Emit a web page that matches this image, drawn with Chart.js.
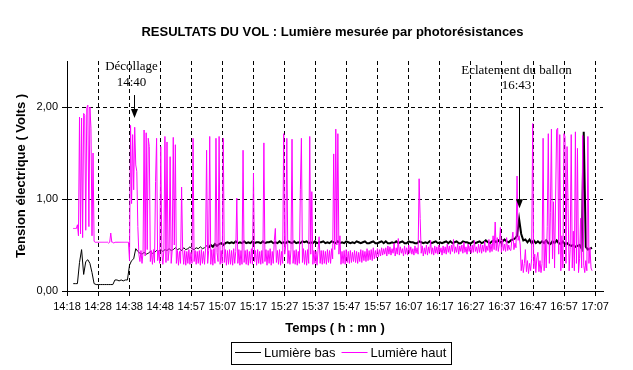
<!DOCTYPE html>
<html>
<head>
<meta charset="utf-8">
<script src="https://cdn.jsdelivr.net/npm/chart.js@4/dist/chart.umd.min.js"></script>
<style>
  html, body { margin: 0; padding: 0; background: #fff; }
  canvas { display: block; }
</style>
</head>
<body>
<canvas id="c" width="633" height="370"></canvas>
<script>
// ---- data -------------------------------------------------------------
const xTickLabels = ['14:18','14:28','14:38','14:48','14:57','15:07','15:17','15:27','15:37',
                     '15:47','15:57','16:07','16:17','16:27','16:37','16:47','16:57','17:07'];
const yTickValues = [0, 1, 2];
const yTickLabels = ['0,00', '1,00', '2,00'];

const firstSampleMin = 2.0;     // minutes after 14:18
const basStepMin = 2 / 3;       // "bas" reading every 40 s
const hautStepMin = 1 / 3;      // "haut" reading every 20 s

// Lumière bas (Volts)
const lumiereBas = [
  0.08,0.08,0.08,0.31,0.45,0.18,0.32,0.34,0.30,0.20,0.08,0.07,0.07,0.07,0.07,
  0.07,0.07,0.07,0.07,0.07,0.12,0.12,0.11,0.12,0.11,0.12,0.12,0.28,0.33,0.35,
  0.46,0.43,0.41,0.40,0.42,0.40,0.41,0.43,0.41,0.42,0.44,0.43,0.45,0.43,0.45,
  0.44,0.46,0.44,0.45,0.47,0.45,0.46,0.44,0.47,0.45,0.46,0.48,0.46,0.45,0.47,
  0.46,0.48,0.46,0.47,0.49,0.47,0.50,0.48,0.51,0.49,0.51,0.52,0.50,0.52,0.53,
  0.52,0.53,0.52,0.54,0.52,0.53,0.52,0.54,0.52,0.53,0.52,0.54,0.52,0.53,0.53,
  0.52,0.54,0.52,0.53,0.53,0.54,0.52,0.53,0.52,0.54,0.52,0.53,0.52,0.54,0.53,
  0.52,0.54,0.52,0.53,0.52,0.54,0.53,0.54,0.52,0.53,0.52,0.54,0.52,0.53,0.53,
  0.54,0.52,0.53,0.52,0.54,0.53,0.52,0.54,0.52,0.53,0.52,0.54,0.53,0.52,0.53,
  0.52,0.54,0.53,0.52,0.53,0.54,0.52,0.52,0.53,0.54,0.52,0.52,0.53,0.54,0.52,
  0.54,0.52,0.52,0.53,0.52,0.54,0.52,0.53,0.54,0.52,0.52,0.54,0.53,0.53,0.52,
  0.52,0.54,0.53,0.52,0.53,0.52,0.54,0.52,0.53,0.54,0.52,0.53,0.52,0.53,0.54,
  0.52,0.54,0.52,0.53,0.54,0.52,0.52,0.54,0.53,0.53,0.52,0.52,0.54,0.52,0.53,
  0.54,0.52,0.53,0.55,0.53,0.52,0.54,0.55,0.53,0.55,0.53,0.54,0.56,0.54,0.53,
  0.55,0.56,0.57,0.60,0.78,0.62,0.55,0.56,0.53,0.56,0.52,0.55,0.52,0.54,0.52,
  0.54,0.52,0.55,0.52,0.51,0.54,0.52,0.55,0.52,0.51,0.54,0.51,0.52,0.50,0.49,
  0.50,0.48,0.49,0.50,0.46,1.73,0.48,0.45,0.46,0.47
];

// Lumière haut (Volts)
const lumiereHaut = [
  0.68,0.68,0.68,0.68,0.72,0.60,1.89,0.62,1.88,0.58, 1.93,1.91,0.66,1.99,2.02,0.70,2.00,1.77,0.60,1.50,
  0.54,0.53,0.53,0.53,0.53,0.53,0.53,0.53,0.53,0.53,
  0.53,0.53,0.53,0.53,0.52,0.53,0.63,0.53,0.53,0.52, 0.53,0.53,0.53,0.53,0.53,0.53,0.53,0.53,0.53,0.53,
  0.53,0.53,0.53,0.53,0.33,1.80,0.95,1.70,1.10,1.78,
  1.37,1.30,0.70,0.40,0.32,0.44,0.30,0.42,1.75,0.38, 1.72,0.45,1.66,1.57,0.32,0.44,0.29,0.45,0.31,1.19,
  1.66,0.33,0.44,0.30,1.57,0.43,0.29,0.45,1.68,0.31,
  1.62,0.33,0.44,1.46,0.30,0.45,1.67,0.50,1.59,0.30, 0.44,0.28,0.43,0.30,1.13,0.45,0.29,0.44,0.28,0.43,
  0.30,0.45,0.29,0.42,0.30,1.66,0.32,0.44,0.29,0.43,
  0.30,0.44,0.28,0.45,0.30,0.43,0.29,0.46,1.53,0.30, 0.44,1.68,0.29,0.45,0.28,0.46,0.30,1.66,0.42,0.32,
  1.68,0.29,0.44,0.30,1.66,0.31,0.45,0.28,0.44,0.29,
  0.45,0.29,0.44,0.28,0.46,0.30,0.43,1.01,0.30,0.45, 0.28,0.44,0.29,1.53,0.31,0.44,0.29,0.45,0.28,0.43,
  0.30,0.46,0.29,1.28,0.32,0.44,0.28,0.45,0.30,0.43,
  0.29,0.44,0.30,1.61,0.32,0.45,0.28,0.44,0.30,0.46, 0.28,0.43,0.30,0.55,0.68,0.31,0.44,0.29,0.45,0.28,
  0.43,0.30,1.71,0.40,0.50,1.66,0.30,0.44,0.29,0.45,
  1.65,0.30,0.44,0.29,0.45,0.28,0.43,0.30,1.10,1.66, 0.31,0.46,0.29,0.44,0.28,0.45,0.30,1.68,0.40,1.08,
  0.29,0.44,0.30,0.43,0.28,0.45,0.59,0.30,0.44,0.29,
  0.44,0.30,0.43,0.29,0.45,0.31,0.44,0.30,0.46,0.35, 1.49,0.45,1.76,0.50,1.71,0.40,0.60,0.29,0.43,0.30,
  0.44,0.29,0.45,0.31,0.43,0.30,0.44,0.31,0.42,0.32,
  0.44,0.31,0.43,0.30,0.42,0.32,0.45,0.31,0.44,0.33, 0.43,0.32,0.46,0.33,0.44,0.34,0.45,0.33,0.47,0.35,
  0.44,0.36,0.46,0.37,0.45,0.38,0.47,0.39,0.46,0.40,
  0.47,0.38,0.49,0.40,0.48,0.39,0.46,0.41,0.52,0.38, 0.47,0.40,0.57,0.39,0.48,0.41,0.46,0.38,0.49,0.40,
  0.47,0.39,0.50,0.41,0.48,0.40,0.46,0.39,0.49,0.41,
  0.47,0.40,1.22,0.79,0.41,0.49,0.38,0.47,0.40,0.50, 0.39,0.48,0.41,0.55,0.40,0.47,0.39,0.49,0.41,0.48,
  0.40,0.50,0.42,0.47,0.39,0.49,0.41,0.48,0.40,0.51,
  0.42,0.49,0.40,0.50,0.43,0.56,0.41,0.48,0.42,0.51, 0.40,0.49,0.43,0.50,0.41,0.53,0.42,0.48,0.40,0.51,
  0.43,0.49,0.41,0.50,0.42,0.55,0.43,0.48,0.41,0.51,
  0.42,0.51,0.41,0.50,0.43,0.54,0.42,0.49,0.44,0.56, 0.42,0.51,0.43,0.60,0.45,0.75,0.44,0.58,0.43,0.51,
  0.69,0.42,0.56,0.44,0.51,0.43,0.58,0.44,0.50,0.45,
  0.44,0.55,0.64,0.45,0.52,0.47,1.25,0.55,0.60,0.50, 0.22,0.34,0.20,0.30,0.45,0.21,0.33,0.19,0.30,0.22,
  0.35,1.82,0.24,0.40,0.20,0.36,0.42,0.21,0.33,0.20,
  0.30,1.66,0.22,0.55,0.25,0.70,1.71,0.30,0.85,1.76, 0.35,0.97,0.25,1.00,1.75,1.77,0.40,1.70,0.22,0.60,
  0.25,1.71,1.68,0.30,1.57,0.90,0.22,0.45,1.70,0.25,
  0.65,0.22,1.73,0.30,1.55,0.20,0.35,0.79,0.25,1.69, 0.28,0.20,0.33,0.22,1.68,0.30,0.47,0.25,0.22
];

// flight events (annotation text)
const eventNames = ['Décollage', 'Eclatement du ballon'];
const eventTimes = ['14:40', '16:43'];

// ---- helpers ----------------------------------------------------------
function toMin(hhmm) { const [h, m] = hhmm.split(':').map(Number); return h * 60 + m; }
const axisStart = toMin(xTickLabels[0]);
const minutesPerTick = (toMin(xTickLabels[xTickLabels.length - 1]) - axisStart) / (xTickLabels.length - 1);
const toPoints = (arr, step) => arr.map((v, i) => ({ x: firstSampleMin + i * step, y: v }));

// annotation placement (in axis units)
const eventMarks = [
  { atMin: 21.44,  arrowFrom: 2.13, arrowTo: 1.88, textAt: [2.397, 2.228] },
  { atMin: 144.66, arrowFrom: 2.00, arrowTo: 0.90, textAt: [2.359, 2.196] }
];

const FONT_SANS = '"Liberation Sans", Arial, sans-serif';
const FONT_SERIF = '"Liberation Serif", "Times New Roman", serif';

const decor = {
  id: 'decor',
  afterDatasetsDraw(chart) {
    const { ctx, scales: { x, y } } = chart;
    ctx.save();
    ctx.fillStyle = '#000';
    ctx.strokeStyle = '#000';
    ctx.lineWidth = 1;
    ctx.font = '13px ' + FONT_SERIF;
    ctx.textAlign = 'center';
    ctx.textBaseline = 'alphabetic';
    eventMarks.forEach((ev, k) => {
      const px = Math.round(x.getPixelForValue(ev.atMin)) + 0.5;
      const yTop = y.getPixelForValue(ev.arrowFrom);
      const yTip = y.getPixelForValue(ev.arrowTo);
      ctx.beginPath();
      ctx.moveTo(px, yTop);
      ctx.lineTo(px, yTip - 8);
      ctx.stroke();
      ctx.beginPath();
      ctx.moveTo(px - 3.5, yTip - 9);
      ctx.lineTo(px + 3.5, yTip - 9);
      ctx.lineTo(px, yTip);
      ctx.closePath();
      ctx.fill();
      ctx.fillText(eventNames[k], px - 3, y.getPixelForValue(ev.textAt[0]));
      ctx.fillText(eventTimes[k], px - 3, y.getPixelForValue(ev.textAt[1]));
    });
    ctx.restore();
  },
  afterDraw(chart) {
    const { ctx, chartArea } = chart;
    ctx.save();
    // title
    ctx.fillStyle = '#000';
    ctx.font = 'bold 13px ' + FONT_SANS;
    ctx.textAlign = 'center';
    ctx.textBaseline = 'alphabetic';
    ctx.fillText('RESULTATS DU VOL : Lumière mesurée par photorésistances', 332.5, 36);

    // boxed legend
    ctx.font = '13px ' + FONT_SANS;
    ctx.textAlign = 'left';
    const items = chart.data.datasets.map(d => ({ text: d.label, color: d.borderColor }));
    const lineLen = 26, gap = 3, itemGap = 6, padL = 4, padR = 5;
    let w = padL + padR;
    items.forEach((it, k) => { w += lineLen + gap + ctx.measureText(it.text).width + (k ? itemGap : 0); });
    w = Math.round(w);
    const cx = (chartArea.left + chartArea.right) / 2 + 6;
    const x0 = Math.round(cx - w / 2);
    const y0 = chartArea.bottom + 51;
    const h = 22;
    ctx.strokeStyle = '#000';
    ctx.lineWidth = 1;
    ctx.strokeRect(x0 + 0.5, y0 + 0.5, w, h);
    let xx = x0 + padL;
    items.forEach((it, k) => {
      if (k) xx += itemGap;
      ctx.fillStyle = it.color;
      ctx.fillRect(xx, y0 + 10, lineLen, 1);
      xx += lineLen + gap;
      ctx.fillStyle = '#000';
      ctx.fillText(it.text, xx, y0 + 15);
      xx += ctx.measureText(it.text).width;
    });
    ctx.restore();
  }
};

Chart.defaults.font.family = FONT_SANS;
Chart.defaults.color = '#000';

new Chart(document.getElementById('c'), {
  type: 'line',
  data: {
    datasets: [
      { label: 'Lumière bas', data: toPoints(lumiereBas, basStepMin), borderColor: '#000000',
        backgroundColor: '#000000', borderWidth: 1, pointRadius: 0, tension: 0, order: 1,
        segment: { borderWidth: c => (c.p0.parsed.x > 45 ? 2 : 1) } },
      { label: 'Lumière haut', data: toPoints(lumiereHaut, hautStepMin), borderColor: '#ff00ff',
        backgroundColor: '#ff00ff', borderWidth: 1, pointRadius: 0, tension: 0, order: 0 }
    ]
  },
  options: {
    responsive: false,
    devicePixelRatio: 1,
    animation: false,
    layout: { padding: { top: 61, right: 30, bottom: 33, left: 0 } },
    plugins: { legend: { display: false }, title: { display: false }, tooltip: { enabled: false } },
    scales: {
      x: {
        type: 'linear',
        min: 0,
        max: 171.5,
        afterBuildTicks: s => { s.ticks = xTickLabels.map((_, k) => ({ value: k * minutesPerTick })); },
        afterFit: s => { s.height = 46; },
        ticks: { callback: (v, i) => xTickLabels[i], autoSkip: false, maxRotation: 0, minRotation: 0,
                 padding: 4, font: { size: 11 }, color: '#000' },
        grid: { color: '#000', lineWidth: 1, tickLength: 5, tickColor: '#000', tickBorderDash: [] },
        border: { display: true, color: '#000', width: 1, dash: [4, 3] },
        title: { display: true, text: 'Temps ( h : mn )', color: '#000',
                 font: { size: 13, weight: 'bold' }, padding: { top: 0, bottom: 1 } }
      },
      y: {
        min: 0,
        max: 2.5,
        afterBuildTicks: s => { s.ticks = yTickValues.map(v => ({ value: v })); },
        afterFit: s => { s.width = 67; },
        ticks: { callback: (v, i) => yTickLabels[i], padding: 4, font: { size: 11 }, color: '#000' },
        grid: { color: '#000', lineWidth: 1, tickLength: 5, tickColor: '#000', tickBorderDash: [] },
        border: { display: true, color: '#000', width: 1, dash: [4, 3] },
        title: { display: true, text: 'Tension électrique ( Volts )', color: '#000',
                 font: { size: 13, weight: 'bold' }, padding: { top: 14, bottom: 0 } }
      }
    }
  },
  plugins: [decor]
});
</script>
</body>
</html>
